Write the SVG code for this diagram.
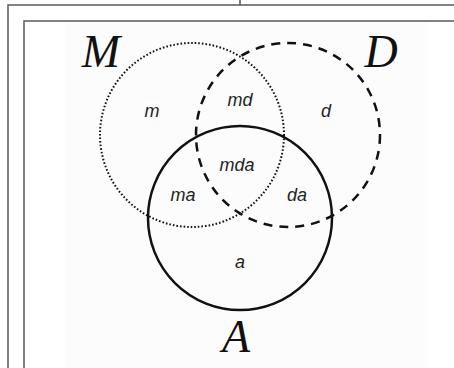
<svg xmlns="http://www.w3.org/2000/svg" width="454" height="368" viewBox="0 0 454 368">
<style>
.frame{fill:none;stroke:#5a5a5a;stroke-width:1.5}
.c{fill:none;stroke:#111}
.big{font-family:"Liberation Serif",serif;font-style:italic;font-size:46px;fill:#111;text-anchor:middle}
.sm{font-family:"Liberation Sans",sans-serif;font-style:italic;font-size:18px;fill:#222;text-anchor:middle}
</style>
<rect width="454" height="368" fill="#ffffff"/>
<rect x="65" y="22" width="363" height="346" fill="#fcfcfc"/>
<g id="frame">
<path class="frame" d="M240,0 V5 M8,368 V5 H454 M24,368 V21 H454"/>
</g>
<g id="connectors"></g>
<g id="M">
<circle class="c" cx="192" cy="135" r="92" stroke-width="2" stroke-dasharray="1.6 2"/>
<text class="big" x="101" y="67">M</text>
</g>
<g id="D">
<circle class="c" cx="288" cy="135" r="92" stroke-width="2.5" stroke-dasharray="9 7"/>
<text class="big" x="381" y="67">D</text>
</g>
<g id="A">
<circle class="c" cx="240" cy="218" r="92" stroke-width="2.5"/>
<text class="big" x="236" y="352">A</text>
</g>
<g id="regions">
<text class="sm" x="152" y="117">m</text>
<text class="sm" x="240" y="106">md</text>
<text class="sm" x="326" y="117">d</text>
<text class="sm" x="237" y="171">mda</text>
<text class="sm" x="183" y="201">ma</text>
<text class="sm" x="297" y="201">da</text>
<text class="sm" x="240" y="268">a</text>
</g>
</svg>
